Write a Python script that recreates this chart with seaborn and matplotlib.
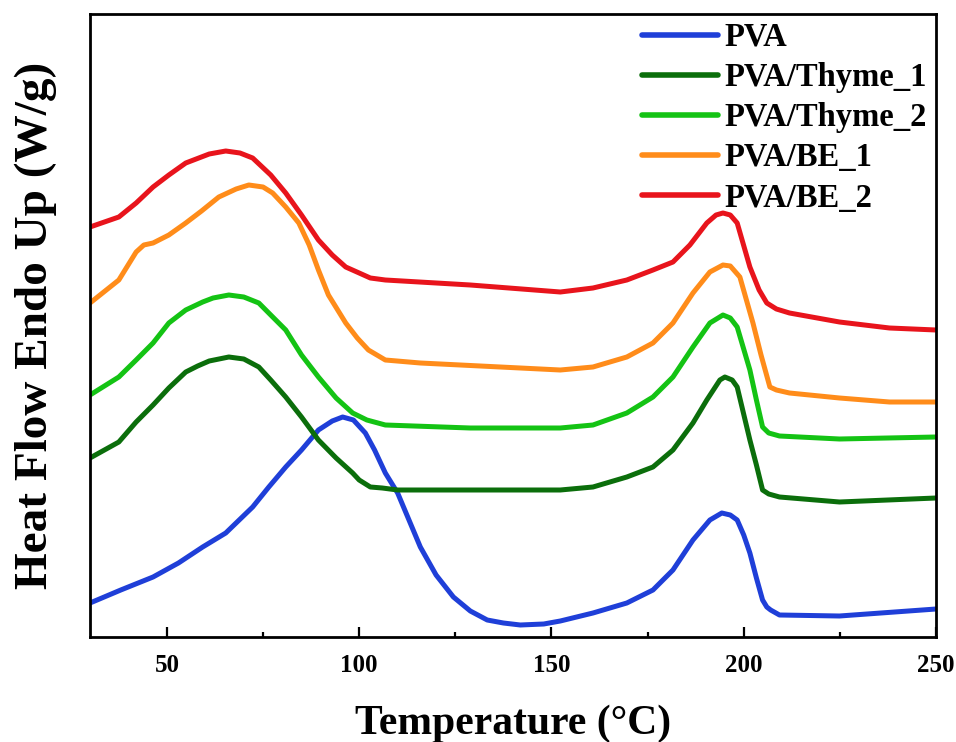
import matplotlib
matplotlib.use("Agg")
import matplotlib.pyplot as plt
import seaborn as sns
import pandas as pd
from matplotlib.ticker import MultipleLocator

# ---- data (heat flow in arbitrary offset units) ----
names = ["PVA", "PVA/Thyme_1", "PVA/Thyme_2", "PVA/BE_1", "PVA/BE_2"]
colors = ["#1f3fd8", "#0b6e0b", "#14c314", "#ff8c1a", "#e8141c"]

t_pva = [30, 38, 46.4, 53, 59.3, 65.3, 72.3, 76.5, 80.9, 85, 89.4, 93, 95.7, 98.5, 101.6,
         104, 106.8, 110.0, 115.9, 120, 124.5, 128.9, 133.3, 137.5, 141.9, 148, 152.3,
         160.8, 169.6, 176.4, 181.6, 186.8, 191.2, 194.3, 196.5, 198.3, 200, 201.6, 203.3,
         204.9, 206, 207, 209.3, 224.9, 250]
y_pva = [34, 47, 60, 74, 90, 104, 130, 150, 170, 187, 207, 216, 220, 217, 204,
         187, 164, 144, 90, 62, 40, 26, 17, 14, 12, 13, 16,
         24, 34, 47, 67, 97, 117, 124, 122, 117, 102, 84, 59,
         37, 30, 27, 22, 21, 28]

t_thy1 = [30, 37.5, 42, 46.4, 50.5, 54.9, 58, 61, 66.1, 70, 73.9, 77, 80.9, 85, 89.4, 94,
          98.3, 100, 102.9, 106, 110, 128.9, 152.3, 160.8, 169.6, 176.4, 181.6, 186.8,
          190.4, 193.8, 195.1, 197, 198.3, 201.6, 203.3, 204.9, 206.5, 209.3, 224.9, 250]
y_thy1 = [179, 195, 215, 232, 249, 265, 271, 276, 280, 278, 270, 257, 240, 220, 197, 179,
          164, 157, 150, 149, 147, 147, 147, 150, 160, 170, 187, 214,
          237, 257, 260, 257, 250, 197, 172, 147, 143, 140, 135, 139]

t_thy2 = [30, 37.5, 42, 46.4, 50.5, 54.9, 59.3, 62, 66.1, 70, 73.9, 77, 80.9, 85, 89.4, 94,
          98.3, 102, 106.8, 128.9, 152.3, 160.8, 169.6, 176.4, 181.6, 186.8, 191.2, 194.6,
          196.5, 198.3, 201.6, 203.3, 204.9, 206.5, 209.3, 224.9, 250]
y_thy2 = [242, 260, 277, 294, 314, 327, 335, 339, 342, 340, 334, 322, 307, 282, 260, 239,
          224, 217, 212, 209, 209, 212, 224, 240, 260, 290, 314, 322,
          319, 310, 267, 237, 210, 204, 201, 198, 200]

t_be1 = [30, 37.5, 42.0, 44, 46.4, 50.5, 54.9, 59, 63.5, 68, 71.3, 75, 77.5, 80.9, 84.3,
         87, 89.4, 92, 96.5, 99.5, 102.4, 106.8, 115.9, 141.9, 152.3, 160.8, 169.6, 176.4,
         181.6, 186.8, 191.2, 194.6, 196.5, 199.0, 202.4, 204.5, 206.8, 208.5, 211.9,
         224.9, 237.9, 250]
y_be1 = [334, 357, 385, 392, 394, 402, 414, 426, 440, 448, 452, 450, 444, 430, 414,
         392, 367, 342, 314, 299, 287, 277, 274, 269, 267, 270, 280, 294,
         314, 344, 365, 372, 371, 360, 314, 282, 250, 247, 244,
         239, 235, 235]

t_be2 = [30, 37.5, 42, 46.4, 50.5, 54.9, 61, 65.3, 69, 72.3, 77, 80.9, 85, 89.4, 93, 96.5,
         100, 102.9, 106.8, 128.9, 152.3, 160.8, 169.6, 176.4, 181.6, 186, 190.4, 192.8,
         194.6, 196.5, 198.3, 201.6, 204, 206.0, 208.5, 211.9, 224.9, 237.9, 250]
y_be2 = [410, 420, 434, 450, 462, 474, 483, 486, 484, 479, 462, 444, 422, 397, 382, 370,
         364, 359, 357, 352, 345, 349, 357, 367, 375, 392, 414, 422,
         424, 422, 414, 370, 347, 334, 328, 324, 315, 309, 307]

xticks = [50, 100, 150, 200, 250]
xlabel = "Temperature (\u00b0C)"
ylabel = "Heat Flow Endo Up (W/g)"

series = [(t_pva, y_pva), (t_thy1, y_thy1), (t_thy2, y_thy2), (t_be1, y_be1), (t_be2, y_be2)]

sns.set_theme(style="white")
plt.rcParams["font.family"] = ["Liberation Serif", "DejaVu Serif"]
plt.rcParams["font.weight"] = "bold"
plt.rcParams["text.color"] = "black"
plt.rcParams["axes.labelcolor"] = "black"
plt.rcParams["xtick.color"] = "black"
plt.rcParams["ytick.color"] = "black"

fig = plt.figure(figsize=(9.56, 7.42), dpi=100)
ax = fig.add_axes([90 / 956, 1 - 637 / 742, 846 / 956, 623 / 742])

for name, col, (t, y) in zip(names, colors, series):
    df = pd.DataFrame({"T": t, "HF": y})
    sns.lineplot(data=df, x="T", y="HF", ax=ax, color=col, lw=3.6, label=name,
                 sort=False, estimator=None, solid_joinstyle="round", solid_capstyle="round")

ax.set_xlim(30, 250)
ax.set_ylim(0, 623)
ax.set_xticks(xticks)
ax.xaxis.set_minor_locator(MultipleLocator(25))
ax.set_yticks([])
ax.tick_params(axis="x", which="major", direction="in", length=7, width=1.6,
               bottom=True, top=False, labelsize=18, pad=12, colors="black")
ax.tick_params(axis="x", which="minor", direction="in", length=3.5, width=1.6,
               bottom=True, top=False)
for lab in ax.get_xticklabels():
    lab.set_fontweight("bold")
for s in ax.spines.values():
    s.set_visible(True)
    s.set_color("black")
    s.set_linewidth(2.0)

ax.set_xlabel(xlabel, fontsize=30, fontweight="bold", labelpad=20, color="black")
ax.set_ylabel(ylabel, fontsize=34, fontweight="bold", labelpad=24, color="black")

leg = ax.legend(loc="upper left", bbox_to_anchor=((642 - 90) / 846, (637 - 22) / 623),
                frameon=False, fontsize=23.5, handlelength=2.33, handletextpad=0.21,
                labelspacing=0.28, borderpad=0, borderaxespad=0)
for txt in leg.get_texts():
    txt.set_fontweight("bold")
    txt.set_color("black")
for h in leg.get_lines():
    h.set_linewidth(4)

fig.savefig("out.png", dpi=100, facecolor="white")
